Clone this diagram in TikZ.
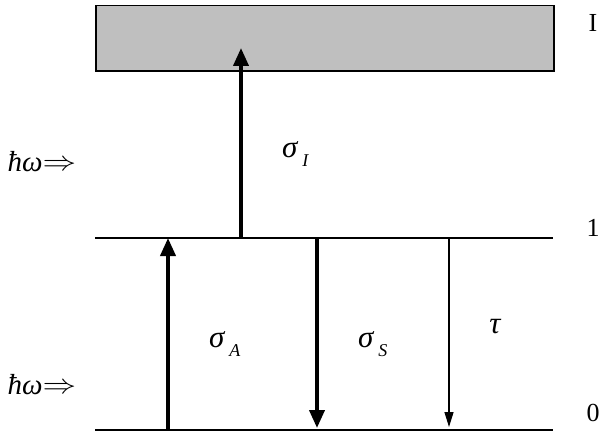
\documentclass[tikz,border=0pt]{standalone}
\usepackage{fontspec}
\setmainfont{Liberation Serif}
\usetikzlibrary{arrows.meta}
\newcommand{\subsc}[1]{\hspace{5pt}\raisebox{-9pt}{\fontsize{18}{18}\selectfont\itshape #1}}
\begin{document}
\begin{tikzpicture}[x=1pt,y=-1pt,
  level/.style={line width=1.3pt},
  thickarr/.style={line width=3.8pt,-{Triangle[length=18pt,width=15pt]}},
  thinarr/.style={line width=1.3pt,-{Triangle[length=15pt,width=9pt]}},
  greek/.style={font=\fontsize{31}{34}\selectfont\itshape,inner sep=0pt,anchor=base west},
  hw/.style={font=\fontsize{29}{32}\selectfont\itshape,inner sep=0pt},
  num/.style={font=\fontsize{26}{28}\selectfont,inner sep=0pt}]
\useasboundingbox (0,0) rectangle (610,444);
\node[draw,line width=1.5pt,fill=black!25,minimum width=458pt,minimum height=65pt,inner sep=0pt,anchor=north west] (band) at (95,5) {};
\coordinate (l1w) at (95,238);
\coordinate (l1e) at (553,238);
\coordinate (l0w) at (95,430);
\coordinate (l0e) at (553,430);
\draw[level] (l1w) -- (l1e);
\draw[level] (l0w) -- (l0e);
\coordinate (iA) at (241,238);
\coordinate (iB) at (241,48);
\draw[thickarr] (iA) -- (iB);
\coordinate (aA) at (168,430);
\coordinate (aB) at (168,238);
\draw[thickarr] (aA) -- (aB);
\coordinate (sA) at (317,238);
\coordinate (sB) at (317,428);
\draw[thickarr] (sA) -- (sB);
\coordinate (tA) at (449,238);
\coordinate (tB) at (449,427);
\draw[thinarr] (tA) -- (tB);
\node[hw] (hw1) at (42,162) {ħω\raisebox{1pt}{\scalebox{1.35}[1.1]{\upshape$\Rightarrow$}}};
\node[hw] (hw2) at (42,385) {ħω\raisebox{1pt}{\scalebox{1.35}[1.1]{\upshape$\Rightarrow$}}};
\node[greek] (sI) at (282,157) {σ\subsc{I}};
\node[greek] (sAl) at (209,347) {σ\subsc{A}};
\node[greek] (sSl) at (358,347) {σ\subsc{S}};
\node[greek,anchor=center] (tau) at (495,327) {τ};
\node[num] (nI) at (593,23) {I};
\node[num] (n1) at (593,228) {1};
\node[num] (n0) at (593,413) {0};
\end{tikzpicture}
\end{document}
